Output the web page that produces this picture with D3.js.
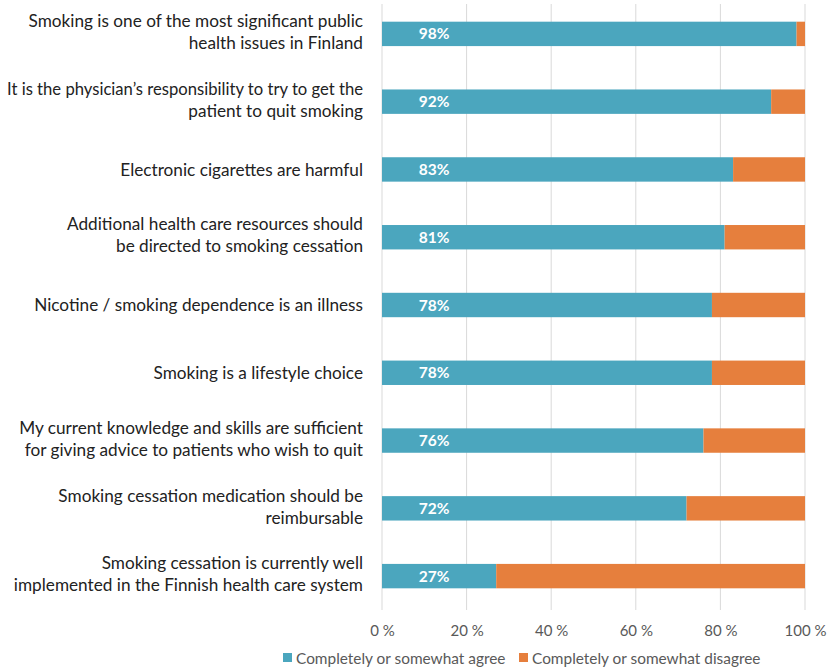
<!DOCTYPE html>
<html><head><meta charset="utf-8">
<script src="https://cdn.jsdelivr.net/npm/d3@7"></script>
<style>body{margin:0;background:#fff}svg{display:block}</style>
</head><body>
<svg id="c" width="827" height="670"></svg>
<script>
const categories = [
  ["Smoking is one of the most significant public","health issues in Finland"],
  ["It is the physician\u2019s responsibility to try to get the","patient to quit smoking"],
  ["Electronic cigarettes are harmful"],
  ["Additional health care resources should","be directed to smoking cessation"],
  ["Nicotine / smoking dependence is an illness"],
  ["Smoking is a lifestyle choice"],
  ["My current knowledge and skills are sufficient","for giving advice to patients who wish to quit"],
  ["Smoking cessation medication should be","reimbursable"],
  ["Smoking cessation is currently well","implemented in the Finnish health care system"]
];
const agree = [98, 92, 83, 81, 78, 78, 76, 72, 27];
const disagree = [2, 8, 17, 19, 22, 22, 24, 28, 73];
const tickValues = [0, 20, 40, 60, 80, 100];
const seriesNames = ["Completely or somewhat agree", "Completely or somewhat disagree"];
const colors = ["#4BA6BE", "#E67F3D"];

const svg = d3.select("#c");
const font = "Lato, 'Open Sans', sans-serif";
const x = d3.scaleLinear().domain([0, 100]).range([382, 805]);
const y = d3.scaleBand().domain(d3.range(categories.length)).range([0, 610]).paddingInner(0.64).paddingOuter(0.32);

// gridlines
svg.append("g").selectAll("line").data(tickValues).join("line")
  .attr("x1", d => x(d)).attr("x2", d => x(d))
  .attr("y1", 4).attr("y2", 610)
  .attr("stroke", "#d9d9d9").attr("stroke-width", 1);

// axis labels
const ax = svg.append("g").attr("transform", "translate(0,611)")
  .call(d3.axisBottom(x).tickValues(tickValues).tickFormat(d => d + " %").tickSize(0).tickPadding(14));
ax.select(".domain").remove();
ax.selectAll("text").attr("font-family", font).attr("font-size", 15).attr("fill", "#595959");

// bars
const data = agree.map((a, i) => ({i, a, d: disagree[i]}));
svg.append("g").selectAll("rect").data(data).join("rect")
  .attr("x", d => x(0)).attr("width", d => x(d.a) - x(0))
  .attr("y", d => y(d.i)).attr("height", y.bandwidth()).attr("fill", colors[0]);
svg.append("g").selectAll("rect").data(data).join("rect")
  .attr("x", d => x(d.a)).attr("width", d => x(d.a + d.d) - x(d.a))
  .attr("y", d => y(d.i)).attr("height", y.bandwidth()).attr("fill", colors[1]);

// value labels
svg.append("g").selectAll("text").data(data).join("text")
  .attr("x", x(0) + 52).attr("y", d => y(d.i) + y.bandwidth() / 2)
  .attr("dy", "0.36em").attr("text-anchor", "middle")
  .attr("font-family", font).attr("font-weight", "bold").attr("font-size", 15.5)
  .attr("fill", "#fff").text(d => d.a + "%");

// category labels
const lab = svg.append("g").selectAll("text").data(categories).join("text")
  .attr("text-anchor", "end").attr("font-family", font).attr("font-size", 17.2).attr("fill", "#222")
  .attr("transform", (d, i) => `translate(363,${y(i) + y.bandwidth() / 2 - (d.length - 1) * 13})`);
lab.selectAll("tspan").data(d => d).join("tspan")
  .attr("x", 0).attr("dy", (d, j) => j === 0 ? "0.36em" : "22px").text(d => d)
  .each(function() {
    const w = this.getComputedTextLength();
    if (w > 356) d3.select(this).attr("textLength", 356).attr("lengthAdjust", "spacingAndGlyphs");
  });

// legend
const leg = svg.append("g");
const legX = [283, 519];
seriesNames.forEach((n, k) => {
  leg.append("rect").attr("x", legX[k]).attr("y", 653).attr("width", 9).attr("height", 9).attr("fill", colors[k]);
  leg.append("text").attr("x", legX[k] + 13).attr("y", 658).attr("dy", "0.36em")
    .attr("font-family", font).attr("font-size", 15.4).attr("fill", "#595959").text(n);
});
</script>
</body></html>
